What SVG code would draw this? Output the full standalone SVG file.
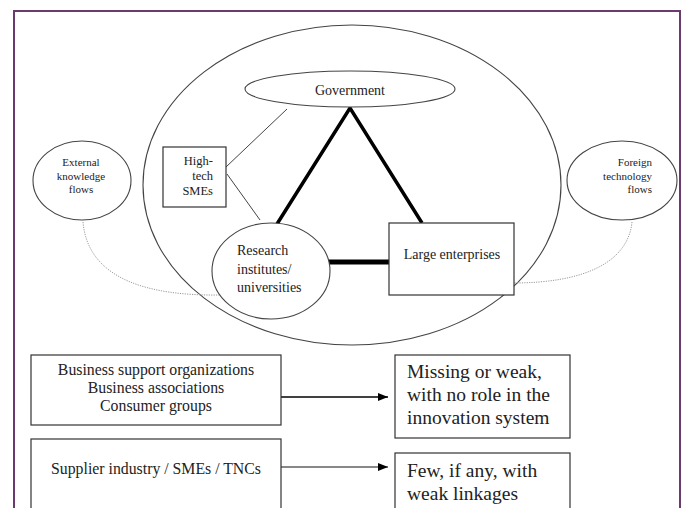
<svg xmlns="http://www.w3.org/2000/svg" width="685" height="508" viewBox="0 0 685 508">
<style>
  text { font-family: "Liberation Serif", "Times New Roman", serif; fill: #222; }
  .box { fill: #fff; stroke: #333; stroke-width: 1.2; }
  .ell { fill: #fff; stroke: #444; stroke-width: 1.1; }
  .thin { stroke: #444; stroke-width: 1; fill: none; }
  .thick { stroke: #000; stroke-width: 3.5; fill: none; }
  .dot { stroke: #999; stroke-width: 1; stroke-dasharray: 1.2 1.2; fill: none; }
  .s11 { font-size: 11px; }
  .s12 { font-size: 12.5px; }
  .s14 { font-size: 14px; }
  .s16 { font-size: 15.8px; }
  .s19 { font-size: 19.5px; }
</style>
<defs>
  <marker id="ah" viewBox="0 0 10 8" refX="10" refY="4" markerWidth="10" markerHeight="8" markerUnits="userSpaceOnUse" orient="auto">
    <path d="M0,0 L10,4 L0,8 z" fill="#000"/>
  </marker>
</defs>
<rect width="685" height="508" fill="#fff"/>
<path d="M14,508 V11 H680 V508" fill="none" stroke="#6b3a6e" stroke-width="2"/>

<g id="system">
  <ellipse cx="352" cy="185" rx="209" ry="160" class="ell" fill="none"/>
</g>

<g id="connectors">
  <path class="dot" d="M83,222 C88,280 150,296 220,295"/>
  <path class="dot" d="M632,222 C628,262 585,283 513,283"/>
  <line class="thin" x1="226" y1="167" x2="287" y2="109"/>
  <line class="thin" x1="227" y1="174" x2="260" y2="220"/>
  <path class="thick" d="M277,224 L350,108 L422,223"/>
  <line x1="327" y1="262" x2="390" y2="262" stroke="#000" stroke-width="5"/>
  <line x1="277" y1="397" x2="388" y2="397" stroke="#000" stroke-width="1.3" marker-end="url(#ah)"/>
  <line x1="281" y1="467" x2="388" y2="467" stroke="#888" stroke-width="2" marker-end="url(#ah)"/>
</g>

<g id="government">
  <ellipse cx="350" cy="89" rx="105" ry="18" class="ell"/>
  <text x="350" y="95" class="s14" text-anchor="middle">Government</text>
</g>

<g id="hightech">
  <rect x="163" y="147" width="63" height="60" class="box"/>
  <text class="s12" text-anchor="end"><tspan x="213" y="165">High-</tspan><tspan x="213" y="180">tech</tspan><tspan x="213" y="195">SMEs</tspan></text>
</g>

<g id="external">
  <ellipse cx="82" cy="180.5" rx="49" ry="39.5" class="ell"/>
  <text class="s11" text-anchor="middle"><tspan x="81" y="166">External</tspan><tspan x="81" y="180">knowledge</tspan><tspan x="81" y="193">flows</tspan></text>
</g>

<g id="foreign">
  <ellipse cx="622" cy="180.5" rx="55" ry="39.5" class="ell"/>
  <text class="s11" text-anchor="end"><tspan x="652" y="166">Foreign</tspan><tspan x="652" y="180">technology</tspan><tspan x="652" y="193">flows</tspan></text>
</g>

<g id="research">
  <ellipse cx="271" cy="271" rx="59" ry="48" class="ell"/>
  <text class="s14"><tspan x="237" y="255">Research</tspan><tspan x="237" y="274">institutes/</tspan><tspan x="237" y="292">universities</tspan></text>
</g>

<g id="large">
  <rect x="389" y="223" width="125" height="72" class="box"/>
  <text x="452" y="259" class="s14" text-anchor="middle">Large enterprises</text>
</g>

<g id="business">
  <rect x="31" y="355" width="250" height="70" class="box"/>
  <text class="s16" text-anchor="middle"><tspan x="156" y="375">Business support organizations</tspan><tspan x="156" y="393">Business associations</tspan><tspan x="156" y="411">Consumer groups</tspan></text>
</g>

<g id="missing">
  <rect x="395" y="355" width="175" height="83" class="box"/>
  <text class="s19"><tspan x="407" y="378">Missing or weak,</tspan><tspan x="407" y="401">with no role in the</tspan><tspan x="407" y="424">innovation system</tspan></text>
</g>

<g id="supplier">
  <rect x="31" y="439" width="250" height="80" class="box"/>
  <text x="156" y="474" class="s16" text-anchor="middle">Supplier industry / SMEs / TNCs</text>
</g>

<g id="few">
  <rect x="395" y="453" width="175" height="70" class="box"/>
  <text class="s19"><tspan x="407" y="477">Few, if any, with</tspan><tspan x="407" y="500">weak linkages</tspan></text>
</g>
</svg>
